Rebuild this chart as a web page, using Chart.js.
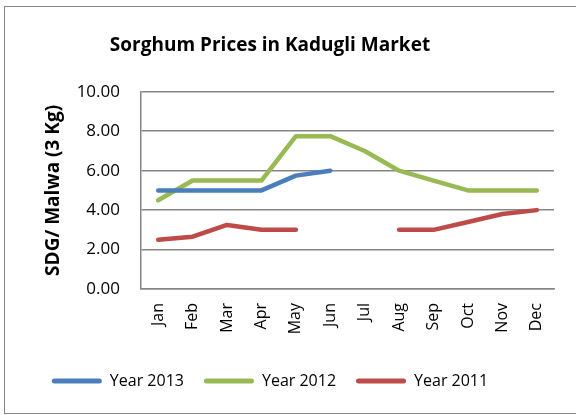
<!DOCTYPE html>
<html>
<head>
<meta charset="utf-8">
<script src="https://cdn.jsdelivr.net/npm/chart.js@4.4.0/dist/chart.umd.min.js"></script>
<style>
  html, body { margin: 0; padding: 0; background: #fff; }
  #wrap { width: 576px; height: 415px; }
</style>
</head>
<body>
<div id="wrap"><canvas id="chart-sorghum" width="576" height="415"></canvas></div>
<script>
var months = ["Jan", "Feb", "Mar", "Apr", "May", "Jun", "Jul", "Aug", "Sep", "Oct", "Nov", "Dec"];
var year2013 = [5.00, 5.00, 5.00, 5.00, 5.75, 6.00, null, null, null, null, null, null];
var year2012 = [4.50, 5.50, 5.50, 5.50, 7.75, 7.75, 7.00, 6.00, 5.50, 5.00, 5.00, 5.00];
var year2011 = [2.50, 2.65, 3.25, 3.00, 3.00, null, null, 3.00, 3.00, 3.40, 3.80, 4.00];

var fontName = "'Open Sans', 'Noto Sans', sans-serif";
var gridGray = "#868686";

// outer chart frame like the excel chart border
var framePlugin = {
  id: "frame",
  afterUpdate: function (chart) {
    // title and legend sit a bit left of centre in the original
    var shift = 7;
    chart.titleBlock.left -= shift;
    chart.titleBlock.right -= shift;
    chart.legend.left -= shift;
    chart.legend.right -= shift;
    chart.legend.adjustHitBoxes();
  },
  afterDraw: function (chart) {
    var ctx = chart.ctx;
    ctx.save();
    ctx.strokeStyle = gridGray;
    ctx.lineWidth = 1;
    ctx.strokeRect(4.5, 6.5, 600, 407);
    ctx.restore();
  }
};

var ctx = document.getElementById("chart-sorghum").getContext("2d");
var chart = new Chart(ctx, {
  type: "line",
  data: {
    labels: months,
    datasets: [
      { label: "Year 2013", data: year2013, borderColor: "#4A7EBB", backgroundColor: "#4A7EBB" },
      { label: "Year 2012", data: year2012, borderColor: "#98B954", backgroundColor: "#98B954" },
      { label: "Year 2011", data: year2011, borderColor: "#BE4B48", backgroundColor: "#BE4B48" }
    ]
  },
  options: {
    responsive: false,
    animation: false,
    spanGaps: false,
    layout: { padding: { left: 0, right: 22, top: 0, bottom: 16 } },
    elements: {
      line: { borderWidth: 4.5, tension: 0, borderCapStyle: "round", borderJoinStyle: "round" },
      point: { radius: 0, hoverRadius: 0 }
    },
    plugins: {
      title: {
        display: true,
        text: "Sorghum Prices in Kadugli Market",
        color: "#000",
        font: { family: fontName, size: 19, weight: "bold" },
        padding: { top: 34, bottom: 35 }
      },
      legend: {
        position: "bottom",
        labels: {
          color: "#000",
          font: { family: fontName, size: 16 },
          boxWidth: 50,
          boxHeight: 5,
          useBorderRadius: true,
          borderRadius: 2.5,
          padding: 20,
          generateLabels: function (c) {
            var items = Chart.defaults.plugins.legend.labels.generateLabels(c);
            items.forEach(function (it) { it.lineWidth = 0; });
            return items;
          }
        }
      },
      tooltip: { enabled: false }
    },
    scales: {
      x: {
        offset: true,
        grid: { display: false, drawTicks: false },
        border: { color: gridGray, width: 1.5 },
        ticks: {
          color: "#000",
          font: { family: fontName, size: 16 },
          minRotation: 90,
          maxRotation: 90,
          padding: 14,
          autoSkip: false
        },
        afterFit: function (scale) { scale.height = 64; }
      },
      y: {
        min: 0,
        max: 10,
        grid: { color: gridGray, lineWidth: 1.5, drawTicks: false },
        border: { color: gridGray, width: 1.5 },
        ticks: {
          stepSize: 2,
          color: "#000",
          font: { family: fontName, size: 17 },
          padding: 21,
          callback: function (v) { return v.toFixed(2); }
        },
        title: {
          display: true,
          text: "SDG/ Malwa (3 Kg)",
          color: "#000",
          font: { family: fontName, size: 19, weight: "bold" },
          padding: { top: 42, bottom: 0 }
        },
        afterFit: function (scale) { scale.width = 141; }
      }
    }
  },
  plugins: [framePlugin]
});
</script>
</body>
</html>
